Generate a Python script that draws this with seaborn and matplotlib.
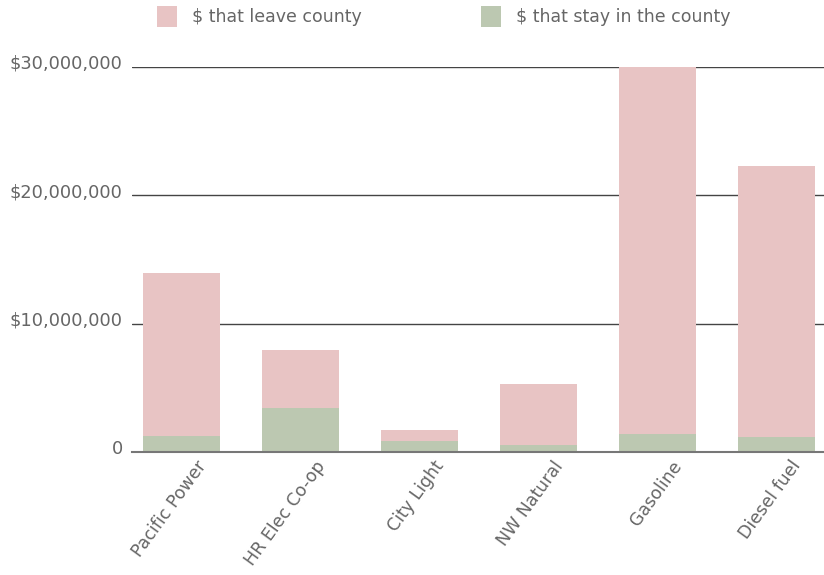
import matplotlib
matplotlib.use("Agg")
import matplotlib.pyplot as plt
import matplotlib.transforms as mtrans
import seaborn as sns
import pandas as pd
from matplotlib.patches import Patch

categories = ["Pacific Power", "HR Elec Co-op", "City Light", "NW Natural", "Gasoline", "Diesel fuel"]
stay = [1.25e6, 3.45e6, 0.86e6, 0.55e6, 1.43e6, 1.17e6]
leave = [12.69e6, 4.49e6, 0.85e6, 4.75e6, 28.57e6, 21.13e6]
yticks = [0, 10e6, 20e6, 30e6]
ytick_labels = ["0", "$10,000,000", "$20,000,000", "$30,000,000"]
legend_labels = ["$ that leave county", "$ that stay in the county"]

df = pd.DataFrame({"cat": categories, "stay": stay, "leave": leave})
df["total"] = df["stay"] + df["leave"]

pink = "#E8C4C4"
green = "#BCC8B1"
txt = "#666666"
FS = 12.5

sns.set_theme(style="white")
plt.rcParams["font.family"] = ["DejaVu Sans"]

fig = plt.figure(figsize=(8.24, 5.75), dpi=100)
ax = fig.add_axes([0.160, 0.214, 0.840, 0.670])

sns.barplot(data=df, x="cat", y="total", color=pink, width=0.65, saturation=1,
            linewidth=0, ax=ax, zorder=2)
sns.barplot(data=df, x="cat", y="stay", color=green, width=0.65, saturation=1,
            linewidth=0, ax=ax, zorder=3)

ax.set_ylim(0, 30e6)
ax.set_xlim(-0.42, 5.4)
ax.set_yticks(yticks)
ax.set_yticklabels(ytick_labels, fontsize=12.8, color=txt)
ax.tick_params(axis="y", length=0, pad=6.5)
ax.tick_params(axis="x", length=0, pad=4)
yoff = mtrans.ScaledTranslation(0, 5 / 100, fig.dpi_scale_trans)
for t in ax.get_yticklabels():
    t.set_transform(t.get_transform() + yoff)
for v in yticks[1:]:
    ax.axhline(v, color="#444444", lw=1, zorder=1)
for s in ["top", "right", "left"]:
    ax.spines[s].set_visible(False)
ax.spines["bottom"].set_color("#777777")
ax.spines["bottom"].set_linewidth(1.5)
ax.spines["bottom"].set_zorder(4)
ax.set_xlabel("")
ax.set_ylabel("")
ax.set_xticks(range(len(categories)))
ax.set_xticklabels(categories, rotation=54, ha="right", rotation_mode="anchor",
                   fontsize=FS, color=txt)
off = mtrans.ScaledTranslation(14 / 100, 0, fig.dpi_scale_trans)
for t in ax.get_xticklabels():
    t.set_transform(t.get_transform() + off)

handles = [Patch(facecolor=pink, edgecolor="none"), Patch(facecolor=green, edgecolor="none")]
fig.legend(handles, legend_labels,
           loc="upper left", bbox_to_anchor=(0.1905, 0.99), ncol=2, frameon=False,
           labelcolor=txt, handlelength=1.15, handleheight=1.5, borderpad=0,
           borderaxespad=0, columnspacing=6.9, handletextpad=0.86,
           prop={"size": FS})

fig.savefig("out.png", dpi=100)
